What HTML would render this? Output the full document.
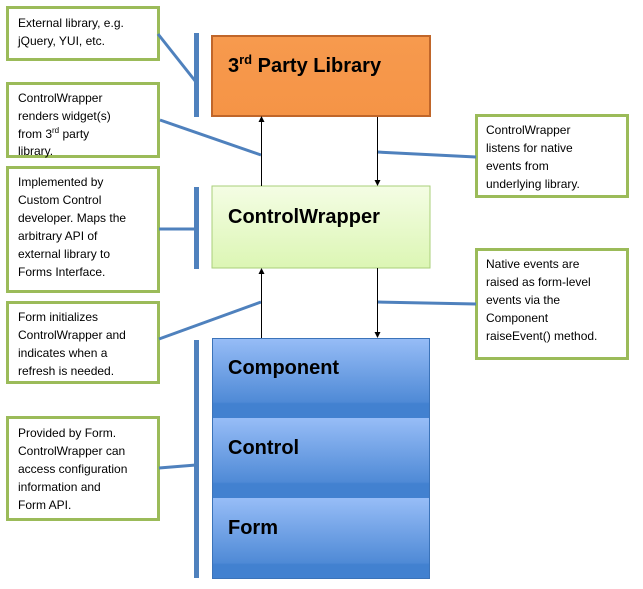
<!DOCTYPE html>
<html><head><style>body{margin:0;background:#fff}svg{display:block}</style></head><body>
<svg width="643" height="589" xmlns="http://www.w3.org/2000/svg" font-family="Liberation Sans, sans-serif">
<defs>
<linearGradient id="or" x1="0" y1="0" x2="0" y2="1"><stop offset="0" stop-color="#f79a4e"/><stop offset="1" stop-color="#f59446"/></linearGradient>
<linearGradient id="gr" x1="0" y1="0" x2="0" y2="1"><stop offset="0" stop-color="#f4fde4"/><stop offset="1" stop-color="#dcf6b4"/></linearGradient>
<linearGradient id="bl" x1="0" y1="0" x2="0" y2="1"><stop offset="0" stop-color="#97bdf7"/><stop offset="0.8" stop-color="#4f8ad6"/><stop offset="0.82" stop-color="#4281d0"/><stop offset="1" stop-color="#4281d0"/></linearGradient>
</defs>
<g fill="#fff" stroke="#9bbb59" stroke-width="3">
<rect x="7.5" y="7.5" width="151" height="52"/>
<rect x="7.5" y="83.5" width="151" height="73"/>
<rect x="7.5" y="167.5" width="151" height="124"/>
<rect x="7.5" y="302.5" width="151" height="80"/>
<rect x="7.5" y="417.5" width="151" height="102"/>
<rect x="476.5" y="115.5" width="151" height="81"/>
<rect x="476.5" y="249.5" width="151" height="109"/>
</g>
<g fill="#4f81bd">
<rect x="194" y="33" width="5" height="84"/>
<rect x="194" y="187" width="5" height="82"/>
<rect x="194" y="340" width="5" height="238"/>
</g>
<g stroke="#4f81bd" stroke-width="3" fill="none">
<line x1="158" y1="34" x2="196" y2="82"/>
<line x1="160" y1="120" x2="261" y2="155"/>
<line x1="159" y1="229" x2="196" y2="229"/>
<line x1="159" y1="339" x2="261" y2="302"/>
<line x1="159" y1="468" x2="196" y2="465"/>
<line x1="377" y1="152" x2="476" y2="157"/>
<line x1="377" y1="302" x2="476" y2="304"/>
</g>
<rect x="212" y="36" width="218" height="80" fill="url(#or)" stroke="#c0662a" stroke-width="2"/>
<rect x="212" y="186" width="218" height="82" fill="url(#gr)" stroke="#a9cf7a" stroke-width="1"/>
<rect x="212" y="338" width="218" height="80" fill="url(#bl)"/>
<rect x="212" y="418" width="218" height="80" fill="url(#bl)"/>
<rect x="212" y="498" width="218" height="81" fill="url(#bl)"/>
<rect x="212.5" y="338.5" width="217" height="240" fill="none" stroke="#3b73b9"/>
<g stroke="#000" stroke-width="1">
<line x1="261.5" y1="118" x2="261.5" y2="186"/>
<line x1="377.5" y1="117" x2="377.5" y2="185"/>
<line x1="261.5" y1="270" x2="261.5" y2="338"/>
<line x1="377.5" y1="268" x2="377.5" y2="336"/>
</g>
<g fill="#000">
<path d="M258.5 122 L261.5 116 L264.5 122Z"/>
<path d="M374.5 180 L377.5 186 L380.5 180Z"/>
<path d="M258.5 274 L261.5 268 L264.5 274Z"/>
<path d="M374.5 332 L377.5 338 L380.5 332Z"/>
</g>
<g font-weight="bold" font-size="20" fill="#000">
<text x="228" y="72">3<tspan font-size="13" dy="-8">rd</tspan><tspan dy="8"> Party Library</tspan></text>
<text x="228" y="223">ControlWrapper</text>
<text x="228" y="374">Component</text>
<text x="228" y="454">Control</text>
<text x="228" y="534">Form</text>
</g>
<g font-size="12" fill="#000">
<text x="18" y="27">External library, e.g.</text>
<text x="18" y="45">jQuery, YUI, etc.</text>
<text x="18" y="102">ControlWrapper</text>
<text x="18" y="120">renders widget(s)</text>
<text x="18" y="138">from 3<tspan font-size="8" dy="-5">rd</tspan><tspan dy="5"> party</tspan></text>
<text x="18" y="155">library.</text>
<text x="18" y="186">Implemented by</text>
<text x="18" y="204">Custom Control</text>
<text x="18" y="222">developer. Maps the</text>
<text x="18" y="240">arbitrary API of</text>
<text x="18" y="258">external library to</text>
<text x="18" y="276">Forms Interface.</text>
<text x="18" y="321">Form initializes</text>
<text x="18" y="339">ControlWrapper and</text>
<text x="18" y="357">indicates when a</text>
<text x="18" y="375">refresh is needed.</text>
<text x="18" y="437">Provided by Form.</text>
<text x="18" y="455">ControlWrapper can</text>
<text x="18" y="473">access configuration</text>
<text x="18" y="491">information and</text>
<text x="18" y="509">Form API.</text>
<text x="486" y="134">ControlWrapper</text>
<text x="486" y="152">listens for native</text>
<text x="486" y="170">events from</text>
<text x="486" y="188">underlying library.</text>
<text x="486" y="268">Native events are</text>
<text x="486" y="286">raised as form-level</text>
<text x="486" y="304">events via the</text>
<text x="486" y="322">Component</text>
<text x="486" y="340">raiseEvent() method.</text>
</g>
</svg>
</body></html>
